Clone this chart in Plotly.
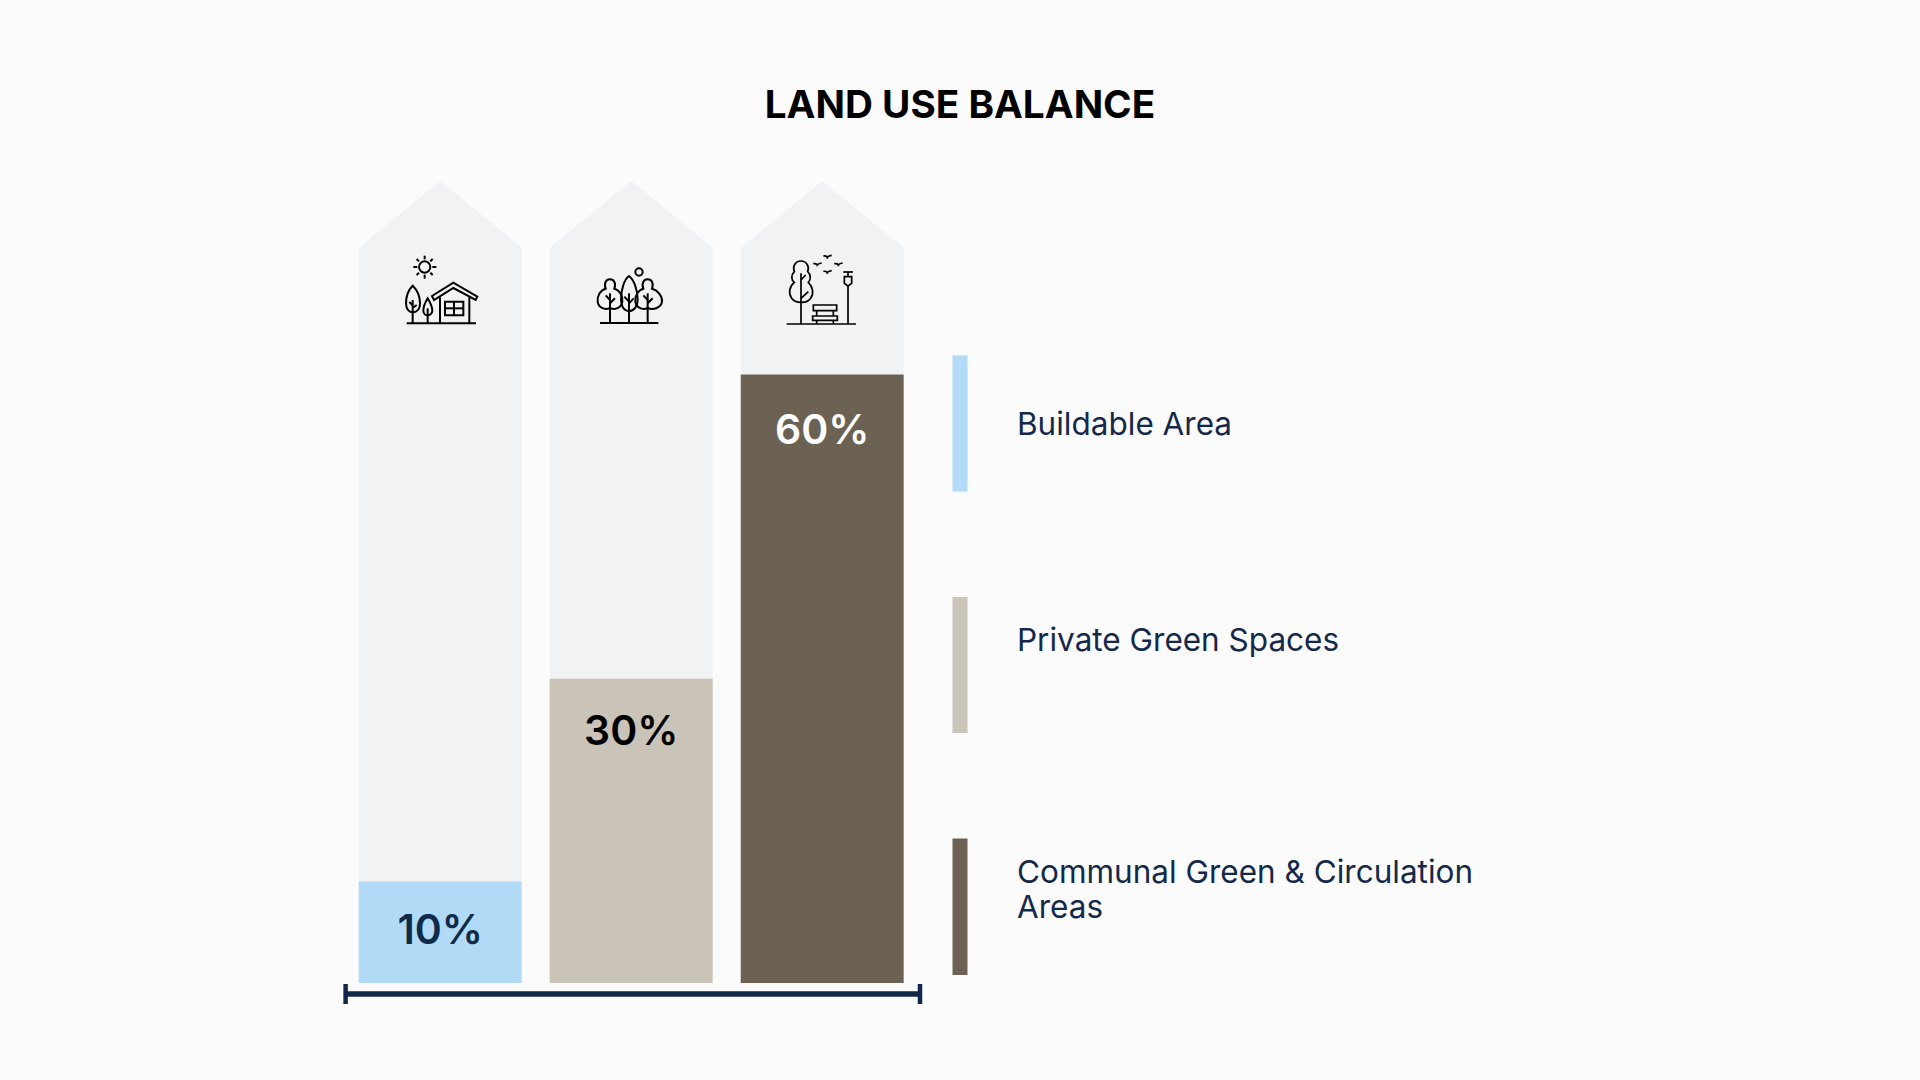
import re
import plotly.graph_objects as go

W, H = 1920, 1080

categories = ["Buildable Area", "Private Green Spaces", "Communal Green & Circulation<br>Areas"]
values = [10, 30, 60]
value_labels = ["10%", "30%", "60%"]
label_levels = [4.9, 24.5, 54.2]
backdrop_shoulder = [72.5, 72.5, 72.5]
backdrop_apex = [79.1, 79.1, 79.1]

BAR_COLORS = ["#B0DAF5", "#CAC3B7", "#6C6253"]
LABEL_COLORS = ["#0F2A4A", "#000000", "#FFFFFF"]
BACKDROP = "#F1F2F4"
PAGE = "#FBFBFB"
NAVY = "#14294A"
FONT = "Inter"
BAR_WIDTH = 0.853

# legend swatches, page pixels: top, bottom
swatch_spans = [(355.5, 491.5), (597, 733), (838.5, 975)]
# first text line of each legend entry, page pixels
legend_text_y = [423.7, 639.2, 871]
LEGEND_LINE = 35.7

icon_house = [
    "M104,64 C113,64 121,72 121,81 C121,90 113,98 104,98 C95,98 87,90 87,81 C87,72 95,64 104,64 Z",
    "M104,47 L104,58", "M104,104 L104,116", "M70,81 L82,81", "M127,81 L139,81",
    "M80,57 L87,64", "M128,57 L121,64", "M80,105 L87,98", "M128,105 L121,98",
    "M50,250 L258,250",
    "M68,137 C55,150 48,170 48,190 C48,210 60,217 68,217 C78,217 90,210 90,190 C90,170 82,150 68,137 Z",
    "M68,180 L68,250", "M68,196 L58,186", "M68,204 L80,195",
    "M113,175 C104,190 100,205 100,212 C100,222 108,226 113,226 C118,226 127,222 127,212 C127,205 122,190 113,175 Z",
    "M113,205 L113,250",
    "M126,168 L190,128 L262,170 L257,180 L190,144 L132,180 Z",
    "M150,172 L150,250", "M238,172 L238,250",
    "M165,185 L220,185 L220,226 L165,226 Z", "M192,185 L192,226", "M165,205 L220,205",
]
icon_trees = [
    "M45,219 L220,219",
    "M162,55 C168,55 173,60 173,66 C173,72 168,77 162,77 C156,77 151,72 151,66 C151,60 156,55 162,55 Z",
    "M132,78 C118,88 108,118 108,150 C108,170 118,183 132,183 C146,183 158,170 158,150 C158,118 146,88 132,78 Z",
    "M132,130 L132,219", "M132,155 L118,140", "M132,160 L146,145",
    "M75,88 C63,88 56,100 62,116 C46,120 36,138 38,155 C40,172 58,182 75,174 C92,182 110,172 112,155 C114,138 104,120 88,116 C94,100 87,88 75,88 Z",
    "M75,130 L75,219", "M75,150 L62,136", "M75,160 L90,145",
    "M188,88 C176,88 169,100 175,116 C159,120 149,138 151,155 C153,172 171,182 188,174 C205,182 229,172 231,155 C233,138 217,120 201,116 C207,100 200,88 188,88 Z",
    "M188,130 L188,219", "M188,150 L175,136", "M188,160 L203,145",
]
icon_park = [
    "M35,237 L243,237",
    "M78,85 L78,237",
    "M78,48 C60,48 52,65 58,80 C48,90 48,105 58,112 C42,125 40,145 50,160 C60,175 95,178 107,160 C118,145 113,125 100,112 C108,105 108,88 98,80 C104,65 95,48 78,48 Z",
    "M78,105 L92,90", "M78,160 L100,140",
    "M115,180 L185,180 L185,197 L115,197 Z",
    "M113,213 L187,213 L187,226 L113,226 Z",
    "M125,197 L125,213", "M175,197 L175,213", "M125,226 L125,237", "M175,226 L175,237",
    "M219,120 L219,237", "M205,81 L234,81", "M219,81 L219,95",
    "M208,95 L230,95 L230,115 L219,123 L208,115 Z",
    "M145,33 Q152,32 157,36 L157,41 M157,36 Q162,32 170,31",
    "M115,56 Q122,55 127,59 L127,64 M127,59 Q132,55 140,54",
    "M178,56 Q185,55 190,59 L190,64 M190,59 Q195,55 203,54",
    "M145,79 Q152,78 157,82 L157,87 M157,82 Q162,78 170,77",
]


def px(x, y):
    return x / W, 1 - y / H


def to_paper(path, ox, oy):
    # local 3x units to paper fractions
    def swap(m):
        return "%.5f,%.5f" % px(ox + float(m.group(1)) / 3, oy + float(m.group(2)) / 3)
    return re.sub(r"([\d.]+),([\d.]+)", swap, path)


def icon_shapes(paths, ox, oy, width=2):
    return [dict(type="path", xref="paper", yref="paper", path=to_paper(p, ox, oy),
                 line=dict(color="#000000", width=width)) for p in paths]


fig = go.Figure()

fig.add_trace(go.Bar(x=list(range(len(values))), y=values, marker=dict(color=BAR_COLORS, line=dict(width=0)),
                     showlegend=False, hovertext=categories, hoverinfo="text+y"))
fig.add_trace(go.Scatter(x=list(range(len(values))), y=label_levels, text=value_labels, mode="text",
                         textposition="middle center", hoverinfo="skip", showlegend=False,
                         textfont=dict(family=FONT, size=41, weight=600, color=LABEL_COLORS)))

shapes = []

# house-shaped backdrops sit behind the bars, on the data axes
half = BAR_WIDTH / 2
for i in range(len(values)):
    shapes.append(dict(type="path", xref="x", yref="y", layer="below", fillcolor=BACKDROP, line=dict(width=0),
                       path=f"M{i - half},0 L{i - half},{backdrop_shoulder[i]} L{i},{backdrop_apex[i]} "
                            f"L{i + half},{backdrop_shoulder[i]} L{i + half},0 Z"))

shapes += icon_shapes(icon_house, 390, 240)
shapes += icon_shapes(icon_trees, 585, 250)
shapes += icon_shapes(icon_park, 775, 245, width=1.7)

# bracket under the columns
x0, y0 = px(345.6, 994)
x1, _ = px(920, 994)
shapes.append(dict(type="line", xref="paper", yref="paper", x0=x0, x1=x1, y0=y0, y1=y0,
                   line=dict(color=NAVY, width=5.5)))
for xp in (345.6, 920):
    xc, yt = px(xp, 984)
    _, yb = px(xp, 1004)
    shapes.append(dict(type="line", xref="paper", yref="paper", x0=xc, x1=xc, y0=yt, y1=yb,
                       line=dict(color=NAVY, width=4.5)))

annotations = []
for name, color, (top, bottom), ty in zip(categories, BAR_COLORS, swatch_spans, legend_text_y):
    xa, ya = px(952.5, top)
    xb, yb = px(967.5, bottom)
    shapes.append(dict(type="rect", xref="paper", yref="paper", x0=xa, x1=xb, y0=yb, y1=ya,
                       fillcolor=color, line=dict(width=0)))
    # plotly's own line height is too loose here, so each line is placed on its own
    for n, line in enumerate(name.split("<br>")):
        tx, typ = px(1014.5, ty + n * LEGEND_LINE)
        annotations.append(dict(text=line, xref="paper", yref="paper", x=tx, y=typ, xanchor="left", yanchor="middle",
                                align="left", showarrow=False, font=dict(family=FONT, size=31.5, color=NAVY)))

fig.update_layout(
    width=W, height=H, margin=dict(l=0, r=0, t=0, b=0),
    paper_bgcolor=PAGE, plot_bgcolor="rgba(0,0,0,0)",
    title=dict(text="<b>LAND USE BALANCE</b>", x=0.5, xanchor="center", y=1 - 104 / H, yanchor="middle",
               font=dict(family=FONT, size=38.7, color="#000000")),
    xaxis=dict(visible=False, range=[-0.5, 2.5], domain=[344.7 / W, 917.7 / W], fixedrange=True),
    yaxis=dict(visible=False, range=[0, 80], domain=[1 - 983 / H, 1 - (983 - 80 * 10.14) / H], fixedrange=True),
    bargap=1 - BAR_WIDTH,
    shapes=shapes, annotations=annotations,
)

fig.write_html("out.html", config={"displayModeBar": False}, post_script="document.body.style.margin = '0';")
